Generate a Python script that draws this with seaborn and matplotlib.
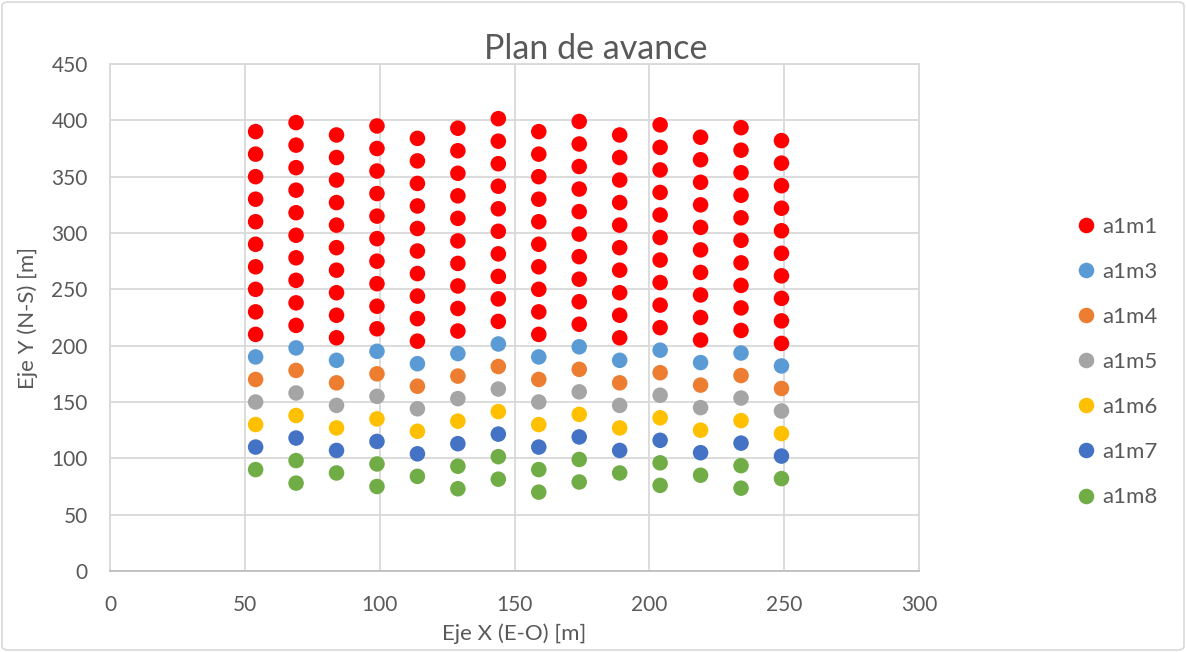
import matplotlib
matplotlib.use("Agg")
import matplotlib.pyplot as plt
from matplotlib.patches import FancyBboxPatch
import seaborn as sns
import pandas as pd

# ---------------- data ----------------
col_x = [54, 69, 84, 99, 114, 129, 144, 159, 174, 189, 204, 219, 234, 249]

a1m1 = [
    [390, 370, 350, 330, 310, 290, 270, 250, 230, 210],
    [398, 378, 358, 338, 318, 298, 278, 258, 238, 218],
    [387, 367, 347, 327, 307, 287, 267, 247, 227, 207],
    [395, 375, 355, 335, 315, 295, 275, 255, 235, 215],
    [384, 364, 344, 324, 304, 284, 264, 244, 224, 204],
    [393, 373, 353, 333, 313, 293, 273, 253, 233, 213],
    [401.5, 381.5, 361.5, 341.5, 321.5, 301.5, 281.5, 261.5, 241.5, 221.5],
    [390, 370, 350, 330, 310, 290, 270, 250, 230, 210],
    [399, 379, 359, 339, 319, 299, 279, 259, 239, 219],
    [387, 367, 347, 327, 307, 287, 267, 247, 227, 207],
    [396, 376, 356, 336, 316, 296, 276, 256, 236, 216],
    [385, 365, 345, 325, 305, 285, 265, 245, 225, 205],
    [393.5, 373.5, 353.5, 333.5, 313.5, 293.5, 273.5, 253.5, 233.5, 213.5],
    [382, 362, 342, 322, 302, 282, 262, 242, 222, 202],
]
a1m3 = [190, 198, 187, 195, 184, 193, 201.5, 190, 199, 187, 196, 185, 193.5, 182]
a1m4 = [170, 178, 167, 175, 164, 173, 181.5, 170, 179, 167, 176, 165, 173.5, 162]
a1m5 = [150, 158, 147, 155, 144, 153, 161.5, 150, 159, 147, 156, 145, 153.5, 142]
a1m6 = [130, 138, 127, 135, 124, 133, 141.5, 130, 139, 127, 136, 125, 133.5, 122]
a1m7 = [110, 118, 107, 115, 104, 113, 121.5, 110, 119, 107, 116, 105, 113.5, 102]
a1m8_x = [54, 69, 69, 84, 99, 99, 114, 129, 129, 144, 144, 159, 159,
          174, 174, 189, 204, 204, 219, 234, 234, 249]
a1m8_y = [90, 98, 78, 87, 95, 75, 84, 93, 73, 101.5, 81.5, 90, 70,
          99, 79, 87, 96, 76, 85, 93.5, 73.5, 82]

series_names = ["a1m1", "a1m3", "a1m4", "a1m5", "a1m6", "a1m7", "a1m8"]
series_colors = ["#FF0000", "#5B9BD5", "#ED7D31", "#A5A5A5", "#FFC000", "#4472C4", "#70AD47"]

x_ticks = [0, 50, 100, 150, 200, 250, 300]
y_ticks = [0, 50, 100, 150, 200, 250, 300, 350, 400, 450]

# ---------------- build long table ----------------
rows = []
for cx, col in zip(col_x, a1m1):
    for v in col:
        rows.append((cx, v, "a1m1"))
for name, vals in zip(["a1m3", "a1m4", "a1m5", "a1m6", "a1m7"], [a1m3, a1m4, a1m5, a1m6, a1m7]):
    for cx, v in zip(col_x, vals):
        rows.append((cx, v, name))
for cx, v in zip(a1m8_x, a1m8_y):
    rows.append((cx, v, "a1m8"))
df = pd.DataFrame(rows, columns=["x", "y", "serie"])

# ---------------- plot ----------------
sns.set_style("white")
plt.rcParams["font.family"] = ["Lato", "DejaVu Sans"]

fig = plt.figure(figsize=(11.86, 6.52), dpi=100)
ax = fig.add_axes([110 / 1186, (652 - 571) / 652, (919 - 110) / 1186, (571 - 64) / 652])

sns.scatterplot(data=df, x="x", y="y", hue="serie", hue_order=series_names,
                palette=dict(zip(series_names, series_colors)), s=125,
                edgecolor="none", linewidth=0, ax=ax, zorder=3)

ax.set_xlim(0, 300)
ax.set_ylim(0, 450)
ax.set_xticks(x_ticks)
ax.set_yticks(y_ticks)
ax.grid(True, color="#d9d9d9", linewidth=1.3)
ax.set_axisbelow(True)
for s in ax.spines.values():
    s.set_color("#d9d9d9")
    s.set_linewidth(1.3)
ax.spines["bottom"].set_color("#bfbfbf")
ax.tick_params(axis="both", length=0, labelsize=15, labelcolor="#595959")
ax.tick_params(axis="x", pad=17)
ax.tick_params(axis="y", pad=16)
ax.set_xlabel("Eje X (E-O) [m]", fontsize=16, color="#595959", labelpad=6)
ax.set_ylabel("Eje Y (N-S) [m]", fontsize=16, color="#595959", labelpad=10)

handles, labels = ax.get_legend_handles_labels()
ax.get_legend().remove()
leg = fig.legend(handles, labels, loc="center left",
                 bbox_to_anchor=(1062 / 1186, 1 - 362 / 652),
                 frameon=False, fontsize=16, labelspacing=1.13, handletextpad=0.1,
                 markerscale=1.0, borderpad=0, handlelength=1.2)
for t in leg.get_texts():
    t.set_color("#595959")

fig.text(596 / 1186, 1 - 49 / 652, "Plan de avance", ha="center", va="center",
         fontsize=24.5, color="#595959")

border = FancyBboxPatch((2 / 1186, 2 / 652), 1 - 4 / 1186, 1 - 4 / 652,
                        boxstyle="round,pad=0,rounding_size=0.006",
                        transform=fig.transFigure, fill=False,
                        edgecolor="#d9d9d9", linewidth=1.2)
fig.patches.append(border)

fig.savefig("out.png", dpi=100)
